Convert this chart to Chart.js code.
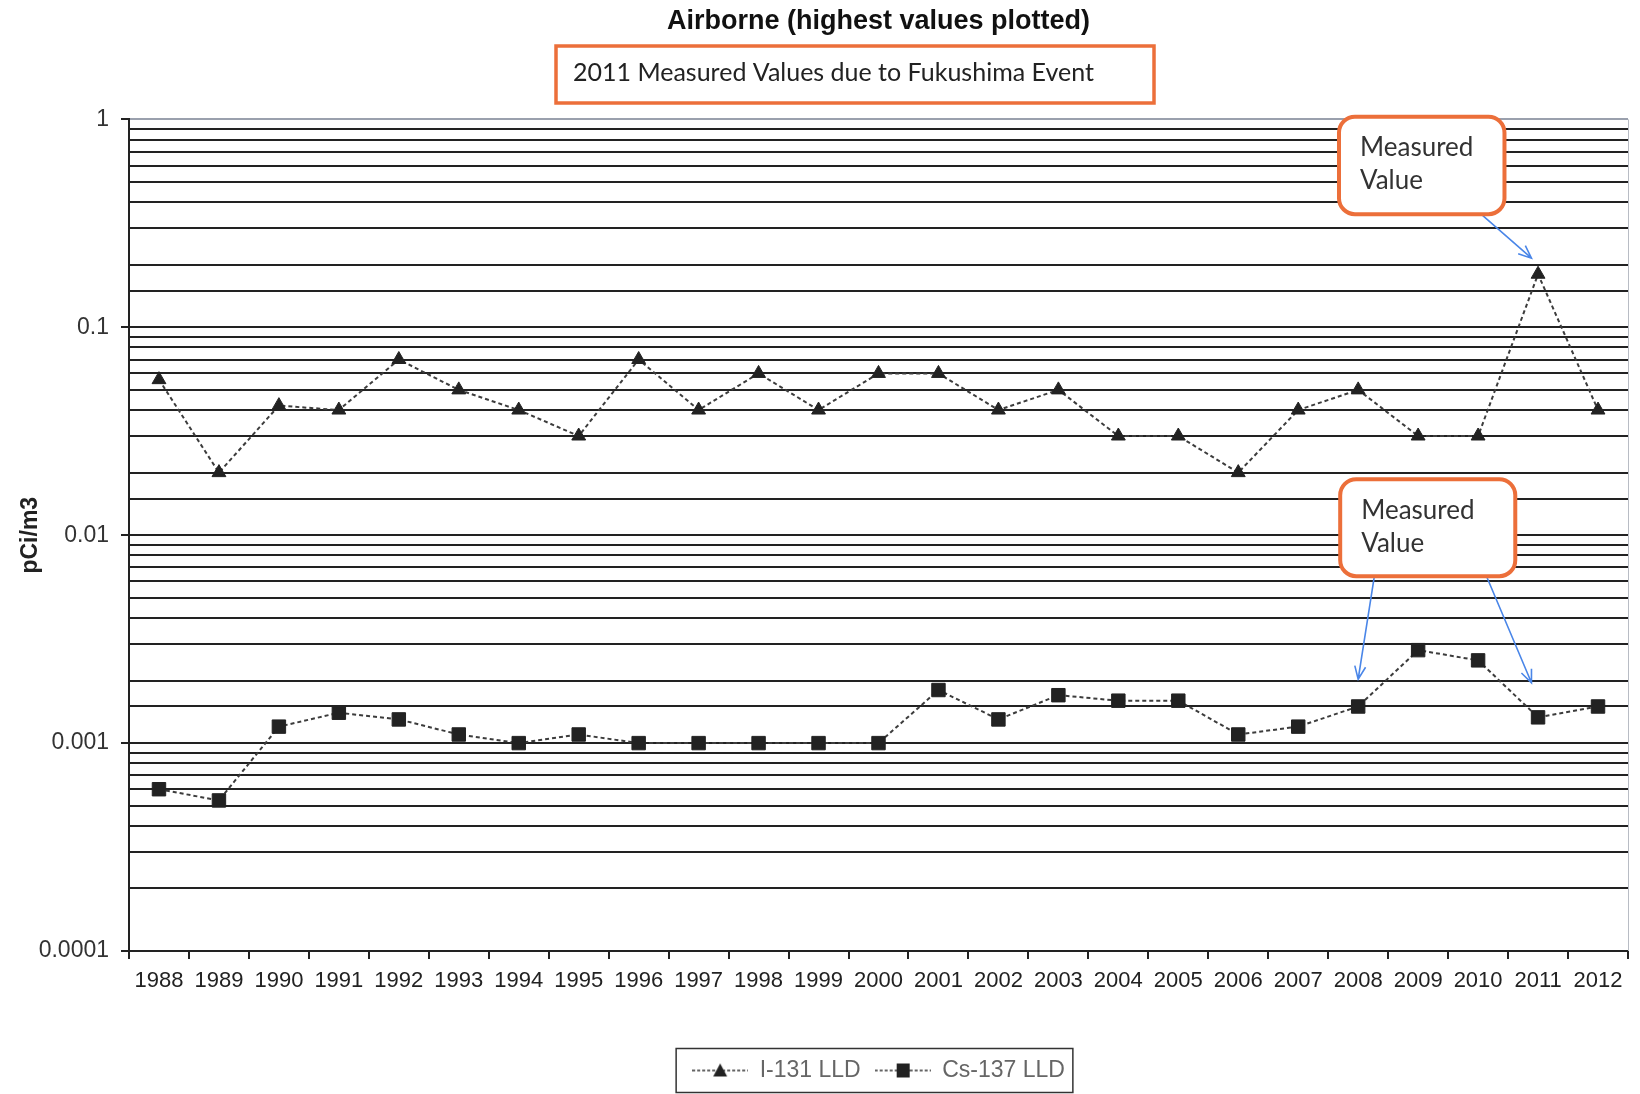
<!DOCTYPE html>
<html>
<head>
<meta charset="utf-8">
<title>Airborne (highest values plotted)</title>
<script src="https://cdn.jsdelivr.net/npm/chart.js@4.4.1/dist/chart.umd.min.js"></script>
<style>
  html, body { margin: 0; padding: 0; background: #fff; }
  #wrap { width: 1640px; height: 1094px; }
</style>
</head>
<body>
<div id="wrap"><canvas id="chart" width="1640" height="1094"></canvas></div>
<script>
// data
const years = ['1988', '1989', '1990', '1991', '1992', '1993', '1994', '1995', '1996', '1997', '1998', '1999', '2000',
    '2001', '2002', '2003', '2004', '2005', '2006', '2007', '2008', '2009', '2010', '2011', '2012'];
const i131 = [0.056, 0.02, 0.042, 0.04, 0.07, 0.05, 0.04, 0.03, 0.07, 0.04, 0.06, 0.04, 0.06,
    0.06, 0.04, 0.05, 0.03, 0.03, 0.02, 0.04, 0.05, 0.03, 0.03, 0.18, 0.04];
const cs137 = [0.0006, 0.00053, 0.0012, 0.0014, 0.0013, 0.0011, 0.001, 0.0011, 0.001, 0.001, 0.001, 0.001, 0.001,
    0.0018, 0.0013, 0.0017, 0.0016, 0.0016, 0.0011, 0.0012, 0.0015, 0.0028, 0.0025, 0.00133, 0.0015];
const seriesNames = ['I-131 LLD', 'Cs-137 LLD'];
const yTickLabels = ['0.0001', '0.001', '0.01', '0.1', '1'];
const chartTitle = 'Airborne (highest values plotted)';
const noteText = '2011 Measured Values due to Fukushima Event';
const calloutText = ['Measured', 'Value'];

const ORANGE = '#ec6f3a', BLUE = '#4a86e8', INK = '#222';

// callouts in data units (category index, log value)
const callouts = [
    {x0: 19.68, x1: 22.44, top: 1.03, bottom: 0.35, arrows: [[22.05, 0.35, 22.89, 0.215]]},
    {x0: 19.7, x1: 22.62, top: 0.0186, bottom: 0.00635, arrows: [[20.27, 0.00635, 20.0, 0.00203], [22.14, 0.00635, 22.89, 0.00195]]}
];

// legend sample: dashed line with the marker in the middle
function legendSample(style) {
    const c = document.createElement('canvas');
    c.width = 56; c.height = 20;
    const g = c.getContext('2d');
    g.strokeStyle = '#333'; g.lineWidth = 1.5; g.setLineDash([3, 2]);
    g.beginPath(); g.moveTo(0, 10); g.lineTo(56, 10); g.stroke();
    g.fillStyle = INK;
    if (style === 'triangle') {
        g.beginPath(); g.moveTo(28, 3); g.lineTo(35, 16); g.lineTo(21, 16); g.closePath(); g.fill();
    } else {
        g.fillRect(22, 3, 13, 14);
    }
    return c;
}

function roundRect(ctx, x, y, w, h, r) {
    ctx.beginPath();
    ctx.moveTo(x + r, y);
    ctx.arcTo(x + w, y, x + w, y + h, r);
    ctx.arcTo(x + w, y + h, x, y + h, r);
    ctx.arcTo(x, y + h, x, y, r);
    ctx.arcTo(x, y, x + w, y, r);
    ctx.closePath();
}

const decorations = {
    id: 'decorations',
    afterDraw(chart) {
        const ctx = chart.ctx, xs = chart.scales.x, ys = chart.scales.y, a = chart.chartArea;
        ctx.save();
        // plot frame right side
        ctx.strokeStyle = '#b8bcc4'; ctx.lineWidth = 1;
        ctx.beginPath(); ctx.moveTo(a.right + 0.5, a.top); ctx.lineTo(a.right + 0.5, a.bottom); ctx.stroke();

        // note box under the title
        ctx.font = '25px Lato, "Open Sans", sans-serif';
        ctx.strokeStyle = ORANGE; ctx.lineWidth = 3.5;
        ctx.strokeRect(556, 46, 598, 57);
        ctx.fillStyle = '#222'; ctx.textBaseline = 'middle'; ctx.textAlign = 'left';
        ctx.fillText(noteText, 573, 73);

        // callouts
        callouts.forEach(c => {
            const l = xs.getPixelForValue(c.x0), r = xs.getPixelForValue(c.x1);
            const t = ys.getPixelForValue(c.top), b = ys.getPixelForValue(c.bottom);
            ctx.strokeStyle = BLUE; ctx.lineWidth = 1.6;
            c.arrows.forEach(ar => {
                const x1 = xs.getPixelForValue(ar[0]), y1 = ys.getPixelForValue(ar[1]);
                const x2 = xs.getPixelForValue(ar[2]), y2 = ys.getPixelForValue(ar[3]);
                const ang = Math.atan2(y2 - y1, x2 - x1), hl = 14;
                ctx.beginPath();
                ctx.moveTo(x1, y1); ctx.lineTo(x2, y2);
                ctx.moveTo(x2 - hl * Math.cos(ang - 0.4), y2 - hl * Math.sin(ang - 0.4));
                ctx.lineTo(x2, y2);
                ctx.lineTo(x2 - hl * Math.cos(ang + 0.4), y2 - hl * Math.sin(ang + 0.4));
                ctx.stroke();
            });
            roundRect(ctx, l, t, r - l, b - t, 16);
            ctx.fillStyle = '#fff'; ctx.fill();
            ctx.strokeStyle = ORANGE; ctx.lineWidth = 4; ctx.stroke();
            ctx.fillStyle = '#333'; ctx.font = '26px Lato, "Open Sans", sans-serif';
            ctx.textAlign = 'left'; ctx.textBaseline = 'middle';
            ctx.fillText(calloutText[0], l + 21, t + 31);
            ctx.fillText(calloutText[1], l + 21, t + 64);
        });

        // legend frame
        const hb = chart.legend.legendHitBoxes;
        if (hb && hb.length) {
            const first = hb[0], last = hb[hb.length - 1];
            const cy = first.top + first.height / 2;
            ctx.strokeStyle = '#333'; ctx.lineWidth = 1.5;
            ctx.strokeRect(first.left - 16, cy - 22, last.left + last.width - first.left + 24, 44);
        }
        ctx.restore();
    }
};

const isDecade = v => Math.abs(Math.log10(v) - Math.round(Math.log10(v))) < 1e-9;

new Chart(document.getElementById('chart'), {
    type: 'line',
    data: {
        labels: years,
        datasets: [{
            label: seriesNames[0],
            data: i131,
            borderColor: '#3c3c3c',
            borderWidth: 2,
            borderDash: [4, 3],
            pointStyle: 'triangle',
            pointRadius: 8,
            pointBackgroundColor: INK,
            pointBorderColor: INK,
            pointBorderWidth: 1,
            tension: 0
        }, {
            label: seriesNames[1],
            data: cs137,
            borderColor: '#3c3c3c',
            borderWidth: 2,
            borderDash: [4, 3],
            pointStyle: 'rect',
            pointRadius: 9.5,
            pointBackgroundColor: INK,
            pointBorderColor: INK,
            pointBorderWidth: 1,
            tension: 0
        }]
    },
    options: {
        responsive: false,
        animation: false,
        devicePixelRatio: 1,
        layout: {padding: {left: 0, right: 12, top: 4, bottom: 2}},
        plugins: {
            title: {
                display: true,
                fullSize: false,
                text: chartTitle,
                color: '#111',
                font: {family: '"Liberation Sans", Arial, sans-serif', size: 27, weight: 'bold'},
                padding: {top: 1, bottom: 82}
            },
            legend: {
                position: 'bottom',
                fullSize: false,
                title: {display: true, text: ' ', font: {size: 10}, padding: {top: 17, bottom: 0}},
                labels: {
                    usePointStyle: true,
                    pointStyleWidth: 56,
                    boxHeight: 20,
                    padding: 14,
                    color: '#333',
                    font: {family: '"Liberation Sans", Arial, sans-serif', size: 23},
                    generateLabels: (chart) => chart.data.datasets.map((d, i) => ({
                        text: d.label,
                        pointStyle: legendSample(d.pointStyle),
                        fillStyle: INK,
                        strokeStyle: INK,
                        lineWidth: 0,
                        hidden: false,
                        datasetIndex: i
                    }))
                }
            },
            tooltip: {enabled: false}
        },
        scales: {
            x: {
                type: 'category',
                offset: true,
                grid: {display: true, drawOnChartArea: false, drawTicks: true, tickLength: 8, offset: true, color: INK, lineWidth: 2},
                border: {color: INK, width: 2},
                ticks: {
                    color: '#222',
                    padding: 9,
                    maxRotation: 0,
                    autoSkip: false,
                    font: {family: '"Liberation Sans", Arial, sans-serif', size: 22}
                },
                afterFit: (scale) => { scale.height = 65; }
            },
            y: {
                type: 'logarithmic',
                min: 0.0001,
                max: 1,
                grid: {
                    color: (c) => (c.tick && c.tick.value === 1) ? '#9aa0ad' : INK,
                    lineWidth: 2,
                    drawTicks: true,
                    tickLength: 8,
                    tickColor: (c) => (c.tick && isDecade(c.tick.value)) ? INK : 'rgba(0,0,0,0)'
                },
                border: {color: INK, width: 2},
                ticks: {
                    autoSkip: false,
                    color: '#333',
                    padding: 12,
                    font: {family: '"Liberation Sans", Arial, sans-serif', size: 23},
                    callback: (v) => {
                        if (!isDecade(v)) return '';
                        return yTickLabels.find(l => Math.abs(Number(l) - v) < v * 1e-6) || '';
                    }
                },
                title: {
                    display: true,
                    text: 'pCi/m3',
                    color: '#222',
                    font: {family: '"Liberation Sans", Arial, sans-serif', size: 23, weight: 'bold'},
                    padding: {top: 17, bottom: 0}
                },
                afterFit: (scale) => { scale.width = 129; }
            }
        }
    },
    plugins: [decorations]
});
</script>
</body>
</html>
